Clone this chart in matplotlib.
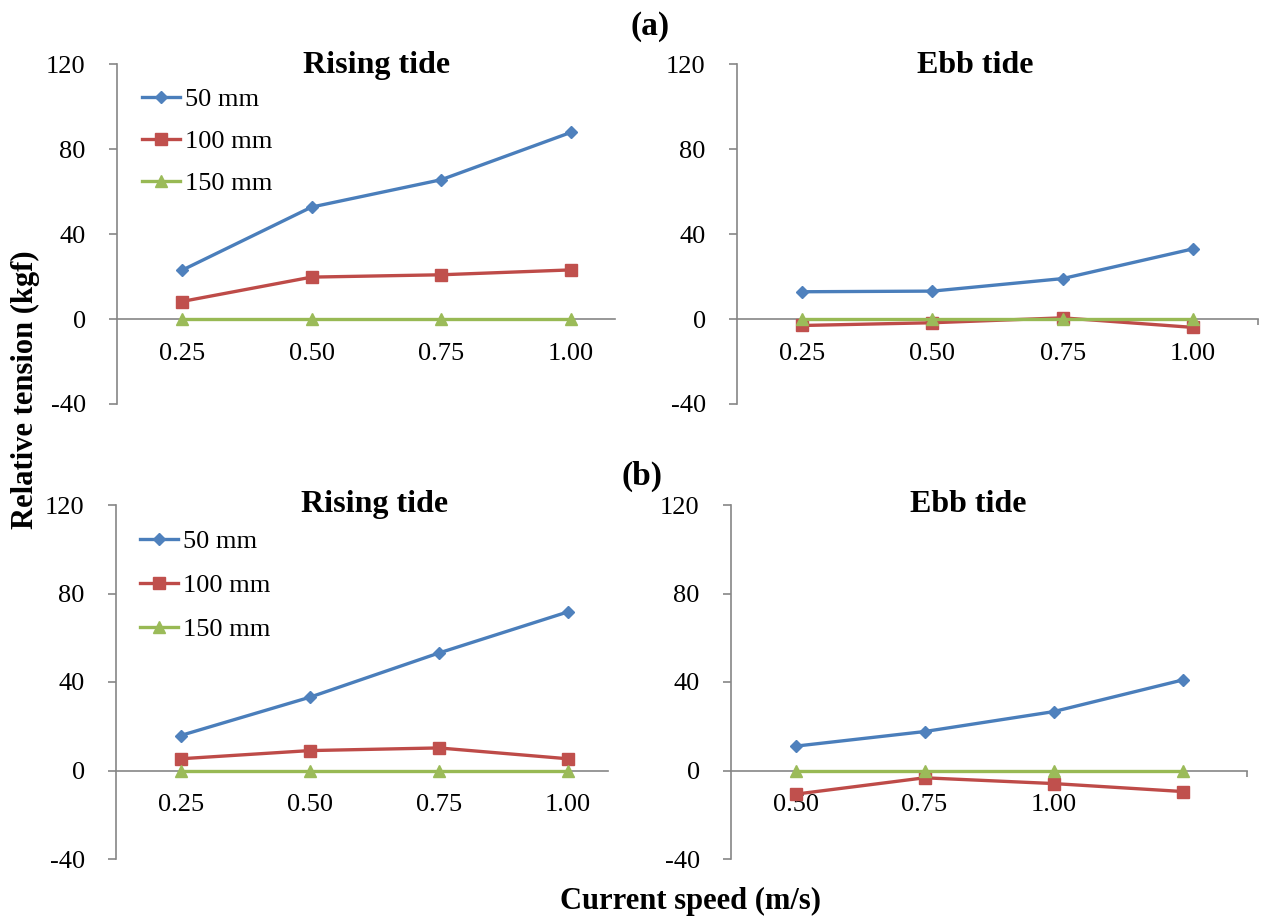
import matplotlib
matplotlib.use("Agg")
import matplotlib.pyplot as plt

plt.rcParams['font.family'] = ['Liberation Serif', 'DejaVu Serif']
plt.rcParams['axes.unicode_minus'] = False

# data
speeds_ab = ['0.25', '0.50', '0.75', '1.00']
speeds_b_ebb = ['0.50', '0.75', '1.00', '']
series_names = ['50 mm', '100 mm', '150 mm']

a_rising_50 = [23.0, 52.8, 65.7, 88.0]
a_rising_100 = [8.3, 19.8, 20.9, 23.2]
a_rising_150 = [0, 0, 0, 0]

a_ebb_50 = [12.9, 13.2, 19.1, 33.1]
a_ebb_100 = [-3.0, -1.7, 0.6, -3.9]
a_ebb_150 = [0, 0, 0, 0]

b_rising_50 = [15.8, 33.1, 53.1, 71.7]
b_rising_100 = [5.3, 9.0, 10.2, 5.3]
b_rising_150 = [0, 0, 0, 0]

b_ebb_50 = [11.0, 17.6, 26.6, 40.9]
b_ebb_100 = [-10.7, -3.3, -5.9, -9.5]
b_ebb_150 = [0, 0, 0, 0]

yticks = [-40, 0, 40, 80, 120]

W, H = 1264, 917
line_colors = ['#4A7EBB', '#BE4B48', '#98B954']
mark_colors = ['#4F81BD', '#C0504D', '#9BBB59']
markers = ['D', 's', '^']
msizes = [6.5, 8, 8]
gray = '#868686'

fig = plt.figure(figsize=(W / 100, H / 100), dpi=100)


def make_axes(l, r, t, b, xend, labels, series, end_tick=False,
              legend_at=None, lspace=0.7):
    ax = fig.add_axes([l / W, 1 - b / H, (r - l) / W, (b - t) / H])
    x = list(range(len(labels)))
    for i, vals in enumerate(series):
        ax.plot(x, vals, color=line_colors[i], lw=2.4, marker=markers[i],
                ms=msizes[i], mfc=mark_colors[i], mec=mark_colors[i],
                label=series_names[i], zorder=3 + i, clip_on=False)
    ax.set_xlim(-0.5, xend)
    ax.set_ylim(-40, 120)
    ax.set_yticks(yticks)
    ax.set_xticks(x)
    ax.set_xticklabels(labels)
    for s in ['top', 'right']:
        ax.spines[s].set_visible(False)
    ax.spines['bottom'].set_position(('data', 0))
    for s in ['left', 'bottom']:
        ax.spines[s].set_color(gray)
        ax.spines[s].set_linewidth(1.2)
    ax.tick_params(axis='y', direction='out', length=6, width=1.2, color=gray,
                   labelsize=19, pad=16.5)
    ax.tick_params(axis='x', which='major', length=0, labelsize=19, pad=17)
    if end_tick:
        ax.set_xticks([xend], minor=True)
        ax.tick_params(axis='x', which='minor', direction='out', length=4,
                       width=1.2, color=gray)
    if legend_at is not None:
        ax.legend(loc='upper left', bbox_to_anchor=legend_at, frameon=False,
                  fontsize=19, borderpad=0, borderaxespad=0, labelspacing=lspace,
                  handlelength=1.44, handletextpad=0.19)
    return ax


make_axes(117, 615, 64.5, 404, 3.34, speeds_ab,
          [a_rising_50, a_rising_100, a_rising_150],
          legend_at=(0.05, 0.931), lspace=0.7)
make_axes(737, 1258, 64.5, 404, 3.5, speeds_ab,
          [a_ebb_50, a_ebb_100, a_ebb_150], end_tick=True)
make_axes(116, 608, 505, 859, 3.31, speeds_ab,
          [b_rising_50, b_rising_100, b_rising_150],
          legend_at=(0.049, 0.930), lspace=0.78)
make_axes(731, 1247, 505, 859, 3.5, speeds_b_ebb,
          [b_ebb_50, b_ebb_100, b_ebb_150], end_tick=True)


def ftext(x, y, s, size, **kw):
    fig.text(x / W, 1 - y / H, s, fontsize=size, fontweight='bold',
             ha='center', **kw)


ftext(650, 35, '(a)', 24, va='baseline')
ftext(642, 485, '(b)', 24, va='baseline')
ftext(377, 73, 'Rising tide', 23, va='baseline')
ftext(975, 73, 'Ebb tide', 23, va='baseline')
ftext(375, 512, 'Rising tide', 23, va='baseline')
ftext(968, 512, 'Ebb tide', 23, va='baseline')
ftext(691, 909, 'Current speed (m/s)', 22, va='baseline')
ftext(25, 390, 'Relative tension (kgf)', 22, va='center', rotation=90)

plt.savefig("out.png", dpi=100)
